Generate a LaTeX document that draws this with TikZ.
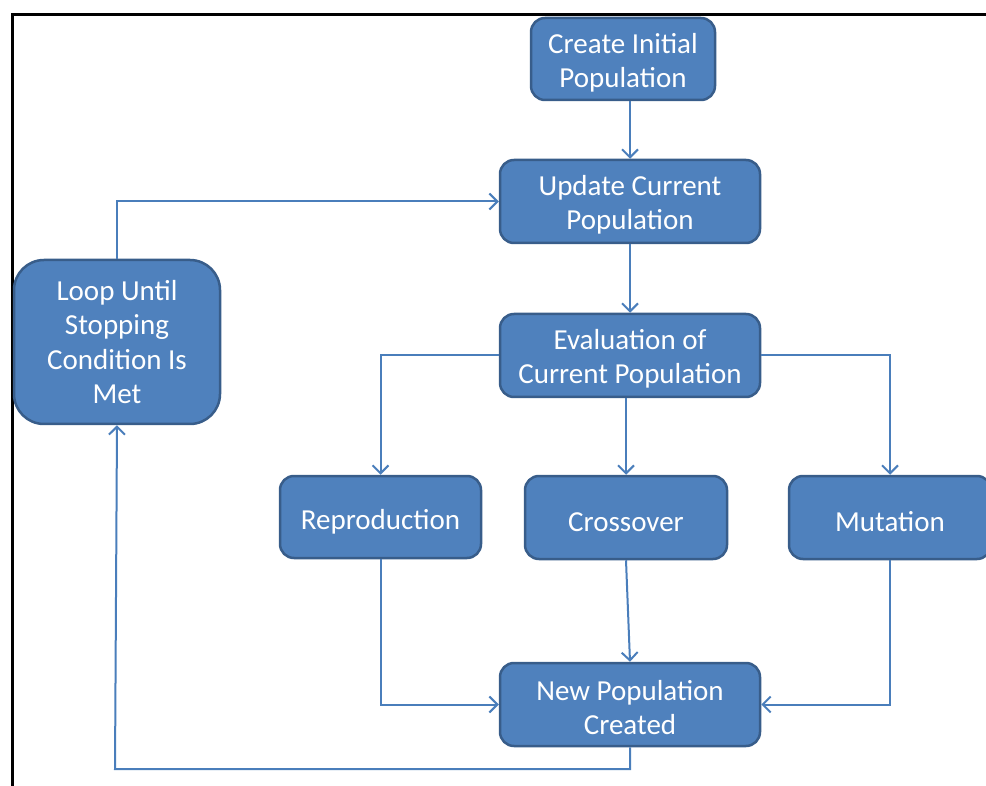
\documentclass[tikz,border=0pt]{standalone}
\usepackage{fontspec}
\setmainfont{Carlito}
\usetikzlibrary{arrows.meta}
\definecolor{boxfill}{HTML}{4F81BD}
\definecolor{boxedge}{HTML}{385D8A}
\definecolor{linkblue}{HTML}{4A7EBB}
% invisible struts that lower the text block a little inside its box
\newcommand\padone{\rule{0pt}{29pt}}
\newcommand\padtwo{\rule{0pt}{27pt}}
\begin{document}
\begin{tikzpicture}[x=1pt,y=-1pt,
  stepbox/.style={rectangle, rounded corners=14pt, draw=boxedge, fill=boxfill,
    line width=2.5pt, text=white, align=center, inner sep=0pt,
    font=\fontsize{29}{34}\selectfont},
  link/.style={draw=linkblue, line width=2pt,
    -{Straight Barb[length=8pt,width=16pt,line width=2pt]}}]
  \useasboundingbox (0,0) rectangle (986,786);
  \clip (0,0) rectangle (986,786);
  % outer frame
  \draw[line width=3pt, black] (12.5,800) -- (12.5,14.5) -- (1000,14.5);

  % process boxes
  \node[stepbox, minimum width=184pt, minimum height=82pt] (create) at (623,59)
    {\padtwo Create Initial\\Population};
  \node[stepbox, minimum width=260pt, minimum height=83pt] (update) at (630,201.5)
    {\padtwo Update Current\\Population};
  \node[stepbox, minimum width=260pt, minimum height=83pt] (eval) at (630,355.5)
    {\padtwo Evaluation of\\Current Population};
  \node[stepbox, rounded corners=30pt, minimum width=206pt, minimum height=164pt,
    font=\fontsize{29}{34.3}\selectfont] (loop) at (117,342)
    {Loop Until\\Stopping\\Condition Is\\Met};
  \node[stepbox, minimum width=201pt, minimum height=82pt] (repro) at (380.5,517)
    {\padone Reproduction};
  \node[stepbox, minimum width=202pt, minimum height=83pt] (cross) at (626,517.5)
    {\padone Crossover};
  \node[stepbox, minimum width=202pt, minimum height=83pt] (mut) at (890,517.5)
    {\padone Mutation};
  \node[stepbox, minimum width=260pt, minimum height=83pt] (newpop) at (630,704.5)
    {\padtwo New Population\\Created};

  % connectors
  \draw[link] (update.north |- create.south) -- (update.north);
  \draw[link] (eval.north |- update.south) -- (eval.north);
  \draw[link] (eval.west) -| (repro.north);
  \draw[link] (cross.north |- eval.south) -- (cross.north);
  \draw[link] (eval.east) -| (mut.north);
  \draw[link] (repro.south) |- (newpop.west);
  \draw[link] (cross.south) -- (newpop.north);
  \draw[link] (mut.south) |- (newpop.east);
  \coordinate (turn) at (115,769);
  \draw[link] (newpop.south) |- (turn) -- (loop.south);
  \draw[link] (loop.north) |- (update.west);
\end{tikzpicture}
\end{document}
